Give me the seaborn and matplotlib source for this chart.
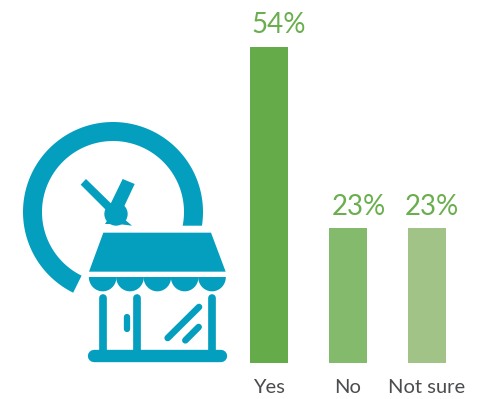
import numpy as np
import pandas as pd
import matplotlib
matplotlib.use("Agg")
import matplotlib.pyplot as plt
from matplotlib.patches import Polygon, Circle
import seaborn as sns

# Survey answers and their shares
answers = ["Yes", "No", "Not sure"]
shares = [54, 23, 23]
bar_colors = ["#66AB49", "#83BA6C", "#A2C387"]
label_shift_px = [10, 10.5, 4.5]

GREEN_TEXT = "#6BAE4F"
GREY_TEXT = "#4A4C4E"
ICON = "#049EBF"
W, H = 485, 399

sns.set_theme(style="white")
plt.rcParams["font.family"] = ["Lato", "DejaVu Sans"]

fig = plt.figure(figsize=(W / 100, H / 100), dpi=100, facecolor="white")

# Bar panel: one category step is 79 px, baseline at y = 363 px
ax = fig.add_axes([229.5 / W, (H - 363) / H, 237 / W, 316 / H])
df = pd.DataFrame({"answer": answers, "share": shares})
sns.barplot(data=df, x="answer", y="share", hue="answer", palette=bar_colors,
            order=answers, hue_order=answers, width=0.485, saturation=1,
            linewidth=0, legend=False, ax=ax)
ax.set_xlim(-0.5, 2.5)
ax.set_ylim(0, 54)
ax.set_xlabel("")
ax.set_ylabel("")
ax.set_yticks([])
ax.tick_params(axis="x", length=0, pad=11.5, labelsize=14.5, labelcolor=GREY_TEXT)
sns.despine(ax=ax, left=True, bottom=True)

for i, (value, shift) in enumerate(zip(shares, label_shift_px)):
    ax.annotate(f"{value}%", xy=(i, value), xytext=(shift * 0.72, 10),
                textcoords="offset points", ha="center", va="baseline",
                fontsize=20, color=GREEN_TEXT, annotation_clip=False)

# Icon layer in pixel coordinates: clock behind a shop front
icon = fig.add_axes([0, 0, 1, 1], facecolor="none")
icon.set_xlim(0, W)
icon.set_ylim(H, 0)
icon.axis("off")


def zx(v):
    return 10 + v / 3


def zy(v):
    return 110 + v / 3


def shape(points):
    icon.add_patch(Polygon([(zx(a), zy(b)) for a, b in points],
                           closed=True, fc=ICON, ec="none"))


def stroke(x0, y0, x1, y1, width):
    icon.plot([zx(x0), zx(x1)], [zy(y0), zy(y1)], color=ICON, lw=width * 0.72,
              solid_capstyle="round")


# Clock ring, open at the lower right
cx, cy, r_out, r_in = 113, 212, 90, 71
a_start = np.arcsin(13.7 / r_out)
a_end = np.arctan2(79, -39)
theta = np.linspace(a_start, a_end - 2 * np.pi, 200)
outer = np.c_[cx + r_out * np.cos(theta), cy + r_out * np.sin(theta)]
theta_in = np.linspace(a_end - 2 * np.pi, np.arcsin(13.7 / r_in), 200)
inner = np.c_[cx + r_in * np.cos(theta_in), cy + r_in * np.sin(theta_in)]
icon.add_patch(Polygon(np.r_[outer, inner], closed=True, fc=ICON, ec="none"))

# Clock hands and hub
shape([(212, 224), (228, 207), (318, 295), (300, 312)])
shape([(338, 207), (374, 222), (335, 305), (300, 285)])
icon.add_patch(Circle((zx(318), zy(312)), 35 / 3, fc=ICON, ec="none"))
shape([(296, 325), (340, 325), (366, 347), (325, 342), (285, 342)])

# Awning
shape([(280, 368), (603, 368), (647, 485), (237, 485)])
for k in range(5):
    left = 237 + 82 * k
    t = np.linspace(0, np.pi, 40)
    shape(list(zip(left + 41 + 41.5 * np.cos(t), 501 + 43 * np.sin(t))))

# Posts, door handle, window glints
for px in (278.5, 382.5, 606.5):
    stroke(px, 564, px, 725, 7.7)
stroke(350.5, 621, 350.5, 656, 6.3)
stroke(473, 684, 567, 591, 6.6)
stroke(526, 691, 566, 651, 6.6)

# Base plate
icon.plot([zx(252), zx(632)], [zy(738.5), zy(738.5)], color=ICON, lw=37 / 3 * 0.72,
          solid_capstyle="round")

fig.savefig("out.png", dpi=100, facecolor="white")
